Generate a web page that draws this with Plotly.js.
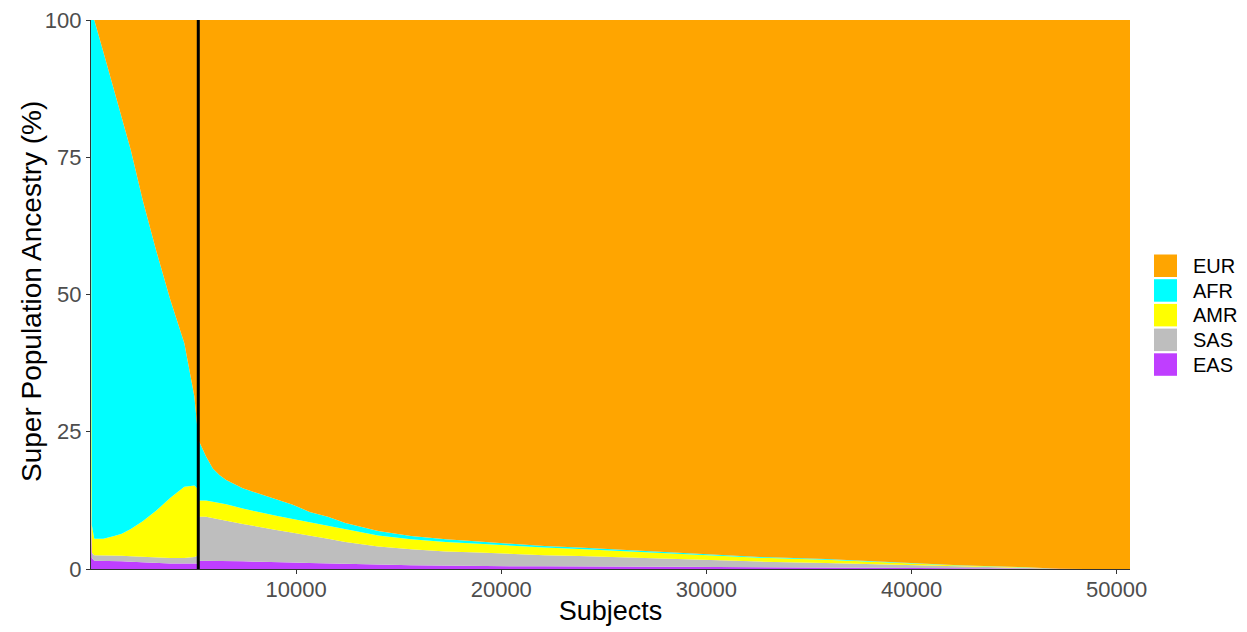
<!DOCTYPE html>
<html>
<head>
<meta charset="utf-8">
<script src="https://cdn.plot.ly/plotly-3.0.1.min.js"></script>
<style>html,body{margin:0;padding:0;background:#fff;}#chart{width:1247px;height:632px;}</style>
</head>
<body>
<div id="chart"></div>
<script>
// Subject index (sorted by non-European ancestry), sampled along the curve
const subjects = [0, 40, 160, 600, 1130, 1500, 1940, 2520, 3170, 3870, 4550, 5040, 5230,
  5240, 5610, 5940, 6260, 6590, 7400, 8220, 9030, 9840, 10660, 11550, 12400, 14000, 15600,
  17300, 18900, 20500, 22100, 23800, 25400, 27000, 28600, 30500, 32600, 35800, 39100,
  42300, 45600, 47200, 48500, 50650];

// Ancestry percentages (%)
const EAS = [10, 2, 1.5, 1.5, 1.5, 1.4, 1.3, 1.2, 1.1, 1.0, 1.0, 1.0, 1.0,
  1.5, 1.5, 1.5, 1.5, 1.4, 1.4, 1.3, 1.3, 1.2, 1.1, 1.0, 0.9, 0.8, 0.7,
  0.6, 0.6, 0.5, 0.5, 0.5, 0.45, 0.4, 0.4, 0.35, 0.3, 0.25, 0.2,
  0.1, 0.05, 0.01, 0, 0];
const SAS = [5, 1, 1, 1, 1, 1, 1, 1, 1, 1, 1, 1.2, 1.5,
  8, 8, 7.8, 7.6, 7.4, 6.8, 6.3, 5.8, 5.4, 5.0, 4.5, 4.0, 3.3, 2.9,
  2.6, 2.4, 2.2, 2.0, 1.85, 1.7, 1.55, 1.4, 1.25, 1.05, 0.85, 0.55,
  0.33, 0.14, 0.02, 0, 0];
const AMR = [80, 5, 3, 3, 3.5, 4, 5, 6.5, 8.5, 11, 13, 13, 12,
  3, 3, 3, 3, 3, 2.8, 2.7, 2.6, 2.5, 2.4, 2.4, 2.3, 2.0, 1.8,
  1.7, 1.6, 1.5, 1.4, 1.3, 1.2, 1.1, 1.0, 0.9, 0.7, 0.6, 0.37,
  0.22, 0.09, 0.015, 0, 0];
const AFR = [5, 92, 94.5, 88.7, 81.2, 75.8, 69, 58.5, 47.5, 36, 26.1, 16.2, 9,
  11, 8, 6, 5, 4.4, 3.7, 3.4, 3.0, 2.6, 1.9, 1.6, 1.2, 0.8, 0.6,
  0.5, 0.4, 0.35, 0.3, 0.25, 0.25, 0.25, 0.2, 0.15, 0.15, 0.1, 0.08,
  0.05, 0.02, 0.005, 0, 0];
const EUR = [0, 0, 0, 5.8, 12.8, 17.8, 23.7, 32.8, 41.9, 51, 58.9, 68.6, 76.5,
  76.5, 79.5, 81.7, 82.9, 83.8, 85.3, 86.3, 87.3, 88.3, 89.6, 90.5, 91.6, 93.1, 94.0,
  94.6, 95.0, 95.45, 95.8, 96.1, 96.4, 96.7, 97.0, 97.35, 97.8, 98.2, 98.8,
  99.3, 99.7, 99.95, 100, 100];

// Vertical reference line position (subjects)
const cutoff = [5230];

const seriesNames = ["EAS", "SAS", "AMR", "AFR", "EUR"];      // bottom -> top
const seriesValues = [EAS, SAS, AMR, AFR, EUR];
const seriesColors = ["#BF3EFF", "#BEBEBE", "#FFFF00", "#00FFFF", "#FFA500"];
const legendOrder = ["EUR", "AFR", "AMR", "SAS", "EAS"];
const xTicks = [10000, 20000, 30000, 40000, 50000];
const yTicks = [0, 25, 50, 75, 100];

const FONT = "Liberation Sans, Arial, sans-serif";

const traces = seriesNames.map((name, i) => ({
  type: "scatter",
  x: subjects,
  y: seriesValues[i],
  name: name,
  stackgroup: "anc",
  mode: "lines",
  line: {width: 0, color: seriesColors[i], shape: "linear"},
  fillcolor: seriesColors[i],
  showlegend: false,
  hoverinfo: "x+y+name"
}));

traces.push({
  type: "scatter",
  x: [cutoff[0], cutoff[0]],
  y: [0, 100],
  mode: "lines",
  line: {color: "#000000", width: 3},
  showlegend: false,
  hoverinfo: "skip"
});

// Manual legend (square swatches like the reference)
const shapes = [];
const annotations = [];
const plotL = 91, plotR = 1130, plotT = 20, plotB = 569;
const pw = plotR - plotL, ph = plotB - plotT;
const px2x = p => (p - plotL) / pw;
const py2y = p => (plotB - p) / ph;
legendOrder.forEach((name, k) => {
  const col = seriesColors[seriesNames.indexOf(name)];
  const top = 254.5 + k * 24.7;
  shapes.push({
    type: "rect", xref: "paper", yref: "paper",
    x0: px2x(1154), x1: px2x(1177), y0: py2y(top + 22.5), y1: py2y(top),
    fillcolor: col, line: {width: 0}
  });
  annotations.push({
    xref: "paper", yref: "paper", x: px2x(1191), y: py2y(top + 11.5),
    xanchor: "left", yanchor: "middle", showarrow: false,
    text: name, font: {family: FONT, size: 20, color: "#000000"}
  });
});

// Y-axis title as rotated text placed like the reference
annotations.push({
  xref: "paper", yref: "paper", x: px2x(31), y: py2y(292),
  xanchor: "center", yanchor: "middle", showarrow: false, textangle: -90,
  text: "Super Population Ancestry (%)", font: {family: FONT, size: 28, color: "#000000"}
});

const layout = {
  width: 1247, height: 632,
  margin: {l: plotL, r: 1247 - plotR, t: plotT, b: 632 - plotB},
  paper_bgcolor: "#ffffff",
  plot_bgcolor: "#ffffff",
  showlegend: false,
  font: {family: FONT},
  xaxis: {
    range: [0, 50650],
    tickvals: xTicks,
    ticktext: xTicks.map(String),
    ticks: "outside", ticklen: 4, tickcolor: "#333333", tickwidth: 1,
    showline: true, linecolor: "#333333", linewidth: 1.2,
    showgrid: false, zeroline: false,
    tickfont: {size: 22, color: "#4D4D4D"},
    ticklabelstandoff: -4,
    title: {text: "Subjects", font: {size: 27, color: "#000000"}, standoff: 0},
    automargin: false
  },
  yaxis: {
    range: [0, 100],
    tickvals: yTicks,
    ticks: "outside", ticklen: 4, tickcolor: "#333333", tickwidth: 1,
    showline: true, linecolor: "#333333", linewidth: 1.2,
    showgrid: false, zeroline: false,
    tickfont: {size: 22, color: "#4D4D4D"},
    automargin: false
  },
  shapes: shapes,
  annotations: annotations
};

Plotly.newPlot("chart", traces, layout, {displayModeBar: false, staticPlot: true});
</script>
</body>
</html>
